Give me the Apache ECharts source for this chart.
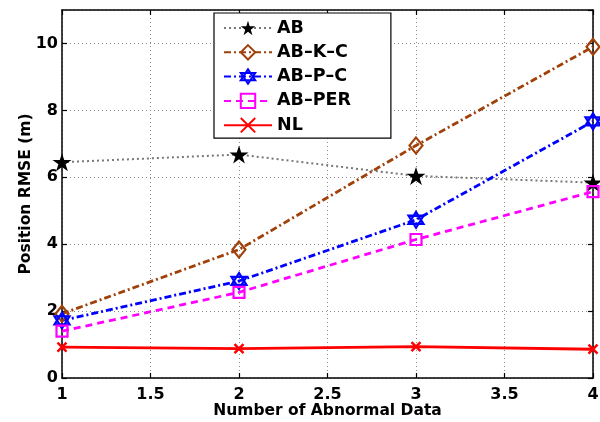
<!DOCTYPE html>
<html>
<head>
<meta charset="utf-8">
<script src="https://cdn.jsdelivr.net/npm/echarts@6/dist/echarts.min.js"></script>
<style>html,body{margin:0;padding:0;background:#fff}#c{width:600px;height:422px}</style>
</head>
<body>
<div id="c"></div>
<script>
const xValues = [1, 2, 3, 4];
const seriesNames = ['AB', 'AB\u2013K\u2013C', 'AB\u2013P\u2013C', 'AB\u2013PER', 'NL'];
const ab = [6.45, 6.68, 6.04, 5.84];
const abkc = [1.92, 3.84, 6.95, 9.9];
const abpc = [1.72, 2.9, 4.73, 7.67];
const abper = [1.4, 2.56, 4.14, 5.57];
const nl = [0.92, 0.88, 0.94, 0.86];
const xTicks = [1, 1.5, 2, 2.5, 3, 3.5, 4];
const yTicks = [0, 2, 4, 6, 8, 10];

const pairs = arr => arr.map((v, i) => [xValues[i], v]);
const font = '"DejaVu Sans", Verdana, sans-serif';

const starPath = 'path://M0,-10 L2.245,-3.09 L9.51,-3.09 L3.633,1.18 L5.88,8.09 L0,3.82 L-5.88,8.09 L-3.633,1.18 L-9.51,-3.09 L-2.245,-3.09 Z';
const hexPath = 'path://M0,-10 L8.66,5 L-8.66,5 Z M0,10 L8.66,-5 L-8.66,-5 Z';
const xPath = 'path://M-1,-1 L1,1 M-1,1 L1,-1';
const clear = 'rgba(255,255,255,0)';

const chart = echarts.init(document.getElementById('c'));
const axisCommon = {
  type: 'value',
  nameMoveOverlap: false,
  axisLine: { show: true, onZero: false, lineStyle: { color: '#000', width: 1.5 } },
  axisTick: { show: true, inside: true, length: 5, lineStyle: { color: '#000', width: 1.2 } }
};
chart.setOption({
  animation: false,
  backgroundColor: '#fff',
  grid: { left: 62, right: 7, top: 10, bottom: 44, containLabel: false, outerBoundsMode: 'none' },
  legend: {
    orient: 'vertical',
    left: 214, top: 13,
    width: 176,
    padding: [6, 40, 4, 9],
    itemGap: 6.3,
    itemWidth: 48, itemHeight: 18,
    backgroundColor: '#fff',
    borderColor: '#000', borderWidth: 1.2,
    textStyle: { fontFamily: font, fontWeight: 'bold', fontSize: 17.5, color: '#000' },
    data: seriesNames
  },
  xAxis: [
    Object.assign({}, axisCommon, {
      min: 1, max: 4, interval: 0.5, position: 'bottom',
      name: 'Number of Abnormal Data', nameLocation: 'middle', nameGap: 25,
      nameTextStyle: { fontFamily: font, fontWeight: 'bold', fontSize: 15.5, color: '#000' },
      axisLabel: { margin: 9, fontFamily: font, fontWeight: 'bold', fontSize: 16, color: '#000',
        formatter: v => xTicks.includes(v) ? String(v) : '' },
      splitLine: { show: true, lineStyle: { color: '#8a8a8a', type: [1, 3], width: 1 } }
    }),
    Object.assign({}, axisCommon, {
      min: 1, max: 4, interval: 0.5, position: 'top',
      axisLabel: { show: false }, splitLine: { show: false }
    })
  ],
  yAxis: [
    Object.assign({}, axisCommon, {
      min: 0, max: 11, interval: 2, position: 'left',
      name: 'Position RMSE (m)', nameLocation: 'middle', nameGap: 28,
      nameTextStyle: { fontFamily: font, fontWeight: 'bold', fontSize: 15.5, color: '#000' },
      axisLabel: { margin: 4, showMaxLabel: false, fontFamily: font, fontWeight: 'bold', fontSize: 16, color: '#000',
        formatter: v => yTicks.includes(v) ? String(v) : '' },
      splitLine: { show: true, lineStyle: { color: '#8a8a8a', type: [1, 3], width: 1 } }
    }),
    Object.assign({}, axisCommon, {
      min: 0, max: 11, interval: 2, position: 'right',
      axisLabel: { show: false }, splitLine: { show: false }
    })
  ],
  series: [
    {
      name: seriesNames[0], type: 'line', data: pairs(ab),
      symbol: starPath, symbolSize: [19, 18],
      lineStyle: { color: '#777', width: 2, type: [2, 3] },
      itemStyle: { color: '#000', borderWidth: 0 }
    },
    {
      name: seriesNames[1], type: 'line', data: pairs(abkc),
      symbol: 'diamond', symbolSize: [13, 16],
      lineStyle: { color: '#A0400A', width: 2.8, type: [7, 3, 2, 3] },
      itemStyle: { color: clear, borderColor: '#A0400A', borderWidth: 2.2 }
    },
    {
      name: seriesNames[2], type: 'line', data: pairs(abpc),
      symbol: hexPath, symbolSize: [15, 16],
      lineStyle: { color: '#0000FF', width: 2.8, type: [7, 3, 2, 3] },
      itemStyle: { color: clear, borderColor: '#0000FF', borderWidth: 2.2 }
    },
    {
      name: seriesNames[3], type: 'line', data: pairs(abper),
      symbol: 'rect', symbolSize: 11,
      lineStyle: { color: '#FF00FF', width: 2.8, type: [7, 5] },
      itemStyle: { color: clear, borderColor: '#FF00FF', borderWidth: 2.2 }
    },
    {
      name: seriesNames[4], type: 'line', data: pairs(nl),
      symbol: xPath, symbolSize: 9,
      lineStyle: { color: '#FF0000', width: 2.8, type: 'solid' },
      itemStyle: { color: clear, borderColor: '#FF0000', borderWidth: 2.5 }
    }
  ]
});
</script>
</body>
</html>
